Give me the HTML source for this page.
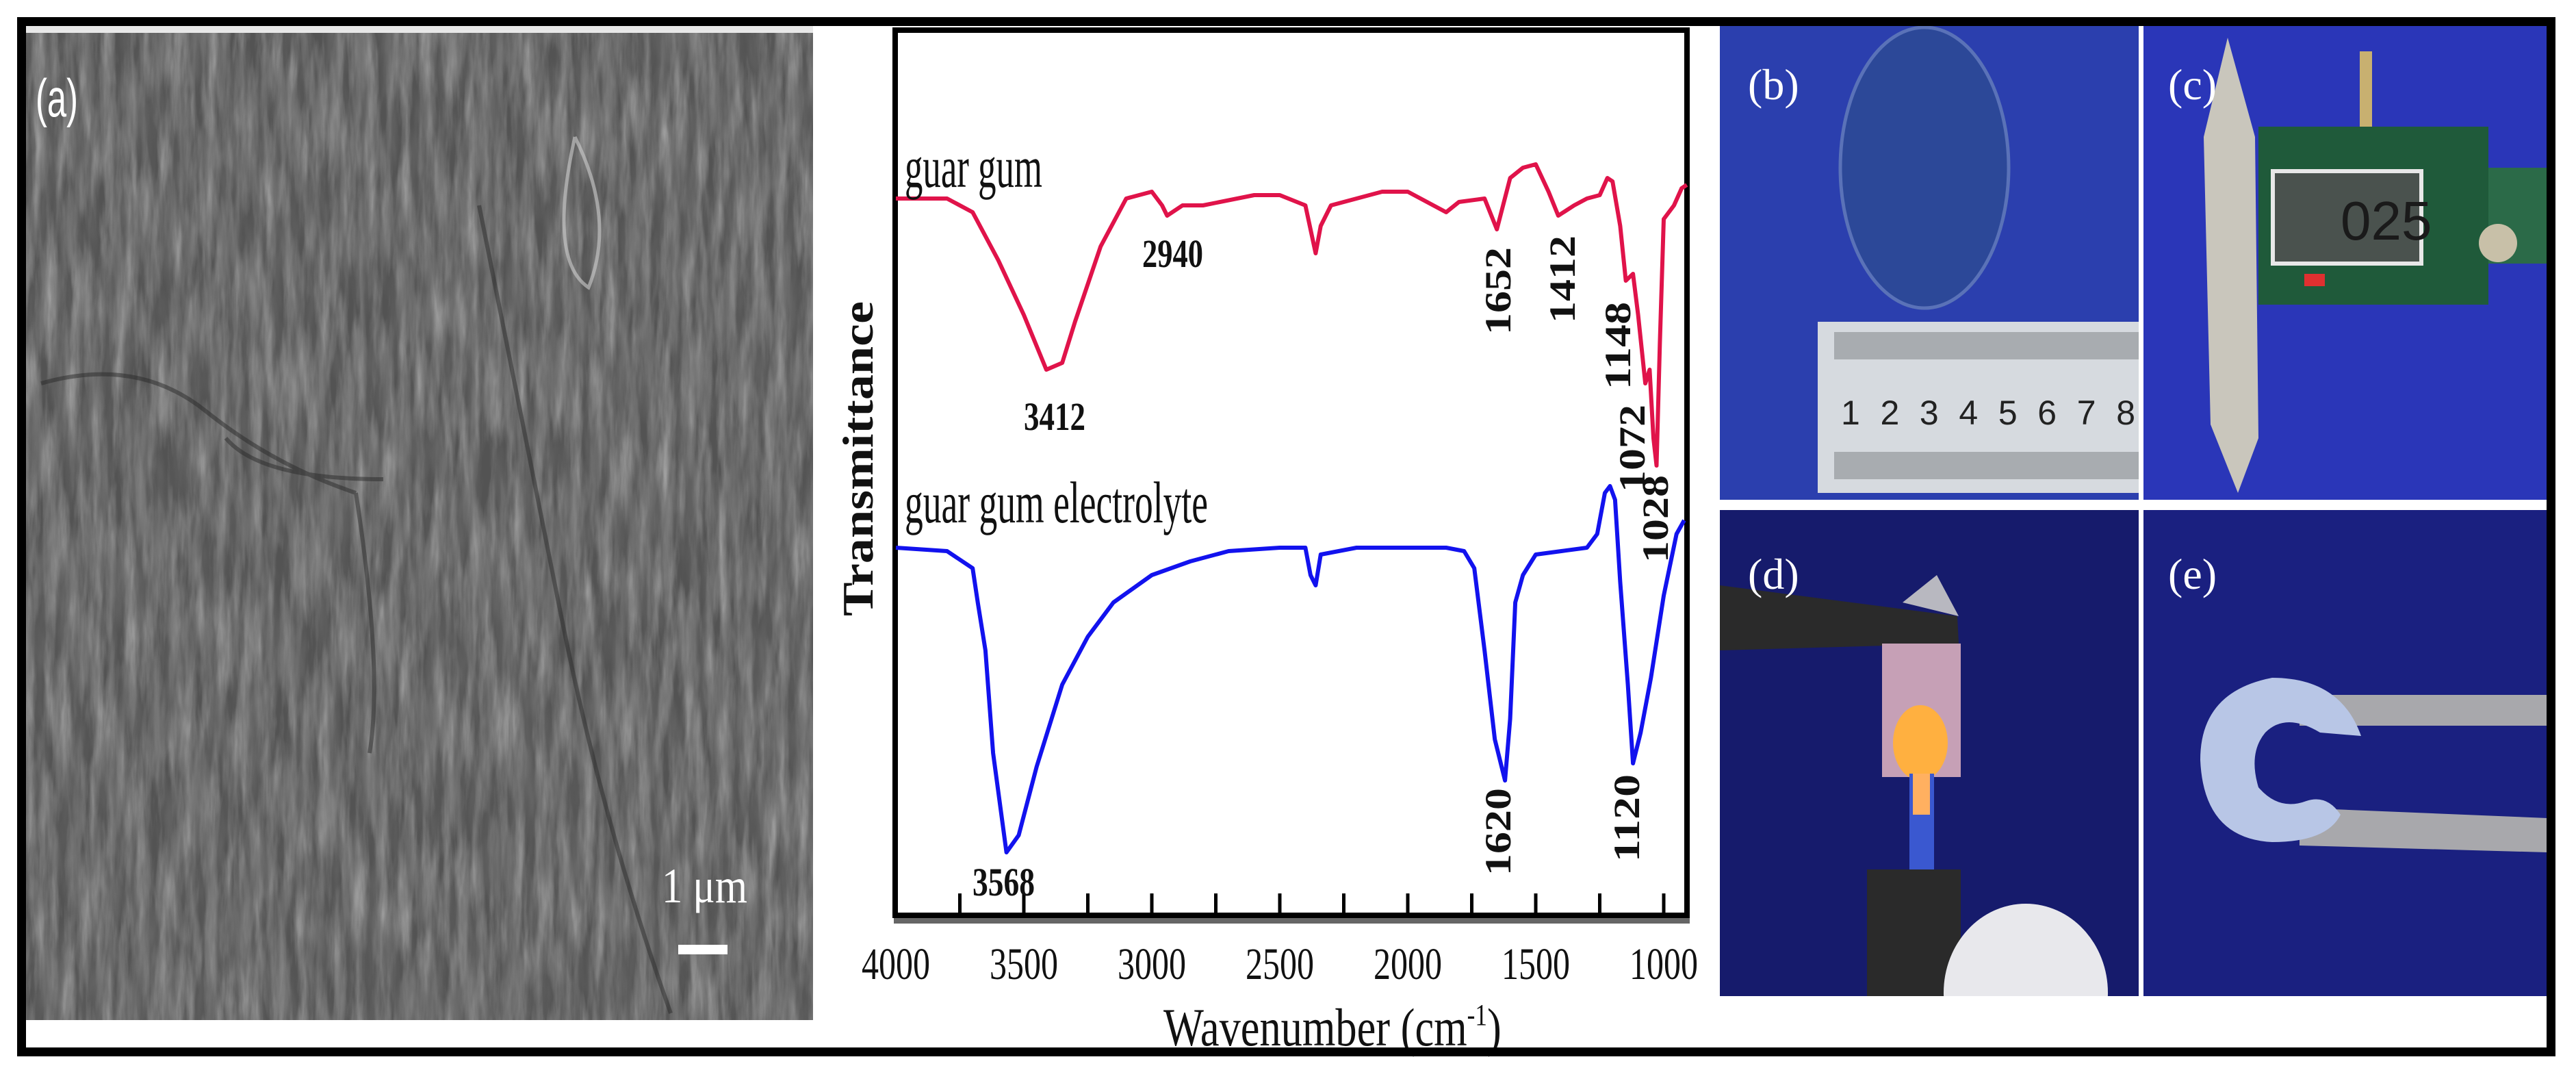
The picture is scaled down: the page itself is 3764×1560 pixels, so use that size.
<!DOCTYPE html>
<html><head><meta charset="utf-8"><style>
html,body{margin:0;padding:0;background:#fff;}
svg{display:block;}
</style></head><body>
<svg id="fig" width="3764" height="1560" viewBox="0 0 3764 1560" xmlns="http://www.w3.org/2000/svg">
<defs>
<filter id="semtex" x="0" y="0" width="100%" height="100%">
<feTurbulence type="fractalNoise" baseFrequency="0.06 0.008" numOctaves="4" seed="4"/>
<feColorMatrix type="matrix" values="0 0 0 0 0.48  0 0 0 0 0.48  0 0 0 0 0.48  1.6 0 0 0 -0.5"/>
</filter>
<filter id="semdark" x="0" y="0" width="100%" height="100%">
<feTurbulence type="fractalNoise" baseFrequency="0.05 0.01" numOctaves="3" seed="9"/>
<feColorMatrix type="matrix" values="0 0 0 0 0.15  0 0 0 0 0.15  0 0 0 0 0.15  0 1.6 0 0 -0.5"/>
</filter>
<clipPath id="clipD"><rect x="2513" y="745" width="612" height="710"/></clipPath>
<clipPath id="clipE"><rect x="3132" y="745" width="590" height="710"/></clipPath>
</defs>
<rect width="3764" height="1560" fill="#fff"/>

<g>
<rect x="38" y="38" width="1150" height="1452" fill="#535353"/>
<rect x="38" y="38" width="1150" height="1452" filter="url(#semtex)" opacity="0.85"/>
<rect x="38" y="38" width="1150" height="1452" filter="url(#semdark)" opacity="0.85"/>
<path d="M60 560 Q200 520 300 600 T520 720 M520 720 Q560 980 540 1100 M700 300 Q760 600 820 900 T980 1480 M330 640 Q380 700 560 700" stroke="#2a2a2a" stroke-width="6" fill="none" opacity="0.5"/>
<path d="M840 200 Q900 320 860 420 Q800 380 840 200" stroke="#cfcfcf" stroke-width="5" fill="none" opacity="0.6"/>
<rect x="38" y="38" width="1150" height="10" fill="#e8e8e8"/>
<text x="52" y="170" font-family="Liberation Sans, sans-serif" font-size="78" fill="#fff" textLength="62" lengthAdjust="spacingAndGlyphs">(a)</text>
<text x="967" y="1318" font-family="Liberation Serif, serif" font-size="72" fill="#fff" textLength="125" lengthAdjust="spacingAndGlyphs">1 μm</text>
<rect x="991" y="1380" width="72" height="14" fill="#fff"/>
</g>

<g id="chart"></g>

<g>
<rect x="2513" y="38" width="612" height="692" fill="#2b3fae"/>
<ellipse cx="2812" cy="245" rx="123" ry="205" fill="#2c4898" stroke="#5a72b8" stroke-width="5"/>
<rect x="2656" y="470" width="469" height="250" fill="#d6dadf"/>
<rect x="2680" y="485" width="445" height="40" fill="#a8acb0"/>
<rect x="2680" y="660" width="445" height="40" fill="#a8acb0"/>
<text x="2690" y="620" font-family="Liberation Sans, sans-serif" font-size="50" fill="#222" textLength="430" lengthAdjust="spacing">1 2 3 4 5 6 7 8</text>
<text x="2554" y="145" font-family="Liberation Serif, serif" font-size="64" fill="#fff">(b)</text>
</g>
<g>
<rect x="3132" y="38" width="590" height="692" fill="#2a36b8"/>
<polygon points="3255,55 3295,200 3300,640 3270,720 3230,620 3220,200" fill="#c9c6bc"/>
<rect x="3630" y="245" width="92" height="140" fill="#2b6a48"/>
<rect x="3300" y="185" width="336" height="260" fill="#1f5a3a"/>
<rect x="3321" y="250" width="217" height="135" fill="#4a524e" stroke="#e8e8e8" stroke-width="6"/>
<text x="3420" y="350" font-family="Liberation Sans, sans-serif" font-size="80" fill="#1a1a1a">025</text>
<rect x="3367" y="400" width="30" height="18" fill="#e03030"/>
<circle cx="3650" cy="355" r="28" fill="#c8c0a8"/>
<rect x="3448" y="75" width="18" height="110" fill="#c8b070"/>
<text x="3168" y="145" font-family="Liberation Serif, serif" font-size="64" fill="#fff">(c)</text>
</g>
<g clip-path="url(#clipD)">
<rect x="2513" y="745" width="612" height="710" fill="#161b6c"/>
<polygon points="2513,855 2860,900 2862,940 2513,950" fill="#2a2a2a"/>
<polygon points="2780,880 2830,840 2862,900" fill="#b8b8c0"/>
<rect x="2750" y="940" width="115" height="195" fill="#c6a0b6"/>
<ellipse cx="2806" cy="1085" rx="40" ry="55" fill="#ffb040"/>
<rect x="2790" y="1130" width="36" height="140" fill="#3a58d0"/>
<rect x="2795" y="1130" width="25" height="60" fill="#ffb060"/>
<rect x="2728" y="1270" width="137" height="185" fill="#2a2a2a"/>
<ellipse cx="2960" cy="1450" rx="120" ry="130" fill="#e8e8ec"/>
<text x="2554" y="860" font-family="Liberation Serif, serif" font-size="64" fill="#fff">(d)</text>
</g>
<g clip-path="url(#clipE)">
<rect x="3132" y="745" width="590" height="710" fill="#1a2080"/>
<rect x="3360" y="1015" width="362" height="45" fill="#a8a8ac"/>
<polygon points="3360,1180 3722,1195 3722,1245 3360,1235" fill="#a8a8ac"/>
<path d="M3450 1075 Q3420 990 3320 990 Q3215 1010 3215 1110 Q3220 1225 3320 1230 Q3400 1230 3420 1190 Q3400 1160 3370 1170 Q3330 1185 3300 1150 Q3285 1100 3310 1070 Q3340 1040 3390 1070 Z" fill="#b8c6e6"/>
<text x="3168" y="860" font-family="Liberation Serif, serif" font-size="64" fill="#fff">(e)</text>
</g>
<rect x="3125" y="38" width="7" height="1417" fill="#fff"/>
<rect x="2513" y="730" width="1209" height="15" fill="#fff"/>

<rect x="31.5" y="31.5" width="3696" height="1505" fill="none" stroke="#000" stroke-width="13"/>

<script>
const ticksX = [4000, 3500, 3000, 2500, 2000, 1500, 1000];
const minorTicksX = [3750, 3250, 2750, 2250, 1750, 1250];
const guarWN = [4000,3800,3700,3600,3500,3412,3350,3300,3200,3100,3000,2960,2940,2900,2880,2800,2600,2500,2400,2360,2340,2300,2100,2000,1850,1800,1700,1652,1600,1550,1500,1450,1412,1350,1300,1250,1220,1200,1170,1148,1120,1100,1072,1055,1040,1028,1015,1000,960,930,910];
const guarT = [105,105,103,96,88,80,81,87,98,105,106,104,102.5,103.5,104,104,105.5,105.5,104,97,101,104,106,106,103,104.5,105,100.5,108,109.5,110,106,102.5,104,105,105.5,108,107.5,101,93,94,88,78,80,70,66,84,102,104,106.5,107];
const elecWN = [4000,3800,3700,3680,3650,3620,3568,3520,3450,3350,3250,3150,3000,2850,2700,2500,2400,2380,2360,2340,2200,2000,1850,1780,1740,1700,1660,1620,1600,1580,1550,1500,1400,1300,1260,1230,1210,1190,1170,1140,1120,1090,1050,1000,950,920];
const elecT = [54,53.5,51,46,39,24,9.5,12,22,34,41,46,50,52,53.5,54,54,50,48.5,53,54,54,54,53.5,51,39,26,20,29,46,50,53,53.5,54,56,62,63,61,49,34,22.5,27,35,47,56,58];
const peakLabels = ["3412","2940","1652","1412","1148","1072","1028","3568","1620","1120"];

const NS = "http://www.w3.org/2000/svg";
const chart = document.getElementById('chart');
const X0 = 1309, PX500 = 187;
function xs(w){ return X0 + (4000 - w) / 500 * PX500; }
function ys(t){ return 1340 - t * 10; }
function mk(tag, attrs, parent){
  const e = document.createElementNS(NS, tag);
  for (const k in attrs) e.setAttribute(k, attrs[k]);
  (parent || chart).appendChild(e);
  return e;
}
const frame = mk('rect', {x:1308, y:44, width:1157, height:1293, fill:'#fff', stroke:'#000', 'stroke-width':8});


mk('rect', {x:1306, y:1341, width:1163, height:8, fill:'#666'});
ticksX.concat(minorTicksX).forEach(function(w){
  const t = mk('line', {x1:xs(w), x2:xs(w), y1:1337, y2:1305, stroke:'#000', 'stroke-width':5});
  
  
});
ticksX.forEach(function(w){
  const l = mk('text', {x:xs(w), y:1430, 'text-anchor':'middle', 'font-family':'Liberation Serif, serif', 'font-size':66, textLength:100, lengthAdjust:'spacingAndGlyphs', fill:'#111'});
  l.textContent = w;
  
  
});
const xt = mk('text', {x:0, y:0, transform:'translate(1700 1527) scale(0.8 1)', 'font-family':'Liberation Serif, serif', 'font-size':78, fill:'#111'});


const ts1 = mk('tspan', {}, xt); ts1.textContent = 'Wavenumber (cm';
const ts2 = mk('tspan', {dy:-30, 'font-size':44}, xt); ts2.textContent = '-1';
const ts3 = mk('tspan', {dy:30}, xt); ts3.textContent = ')';
const yt = mk('text', {x:0, y:0, transform:'translate(1275 670) rotate(-90)', 'text-anchor':'middle', 'font-family':'Liberation Serif, serif', 'font-weight':'bold', 'font-size':64, textLength:460, lengthAdjust:'spacingAndGlyphs', fill:'#111'});
yt.textContent = 'Transmittance';


function path(wn, tv){ return wn.map(function(w,i){ return (i?'L':'M') + xs(w).toFixed(1) + ' ' + ys(tv[i]).toFixed(1); }).join(' '); }
const red = mk('path', {d:path(guarWN, guarT), fill:'none', stroke:'#e0134a', 'stroke-width':6, 'stroke-linejoin':'round'});


const blue = mk('path', {d:path(elecWN, elecT), fill:'none', stroke:'#1212ee', 'stroke-width':6, 'stroke-linejoin':'round'});


const s1 = mk('text', {x:1322, y:273, 'font-family':'Liberation Serif, serif', 'font-size':86, textLength:201, lengthAdjust:'spacingAndGlyphs', fill:'#111'});
s1.textContent = 'guar gum';


const s2 = mk('text', {x:1322, y:763, 'font-family':'Liberation Serif, serif', 'font-size':86, textLength:443, lengthAdjust:'spacingAndGlyphs', fill:'#111'});
s2.textContent = 'guar gum electrolyte';


const hpos = {"3412":[1496,628,90], "2940":[1669,390,89], "3568":[1421,1308,91]};
const vpos = {"1652":[2189,425], "1412":[2283,408], "1148":[2364,505], "1072":[2385,655], "1028":[2419,758], "1620":[2189,1215], "1120":[2377,1195]};
peakLabels.forEach(function(p){
  let t;
  if (hpos[p]) {
    t = mk('text', {x:hpos[p][0], y:hpos[p][1], 'font-family':'Liberation Serif, serif', 'font-weight':'bold', 'font-size':58, textLength:hpos[p][2], lengthAdjust:'spacingAndGlyphs', fill:'#111'});
  } else {
    t = mk('text', {x:0, y:0, transform:'translate(' + (vpos[p][0]+18) + ' ' + vpos[p][1] + ') rotate(-90)', 'text-anchor':'middle', 'font-family':'Liberation Serif, serif', 'font-weight':'bold', 'font-size':54, textLength:128, lengthAdjust:'spacingAndGlyphs', fill:'#111'});
  }
  t.textContent = p;
  
  
});
</script>
</svg>
</body></html>
